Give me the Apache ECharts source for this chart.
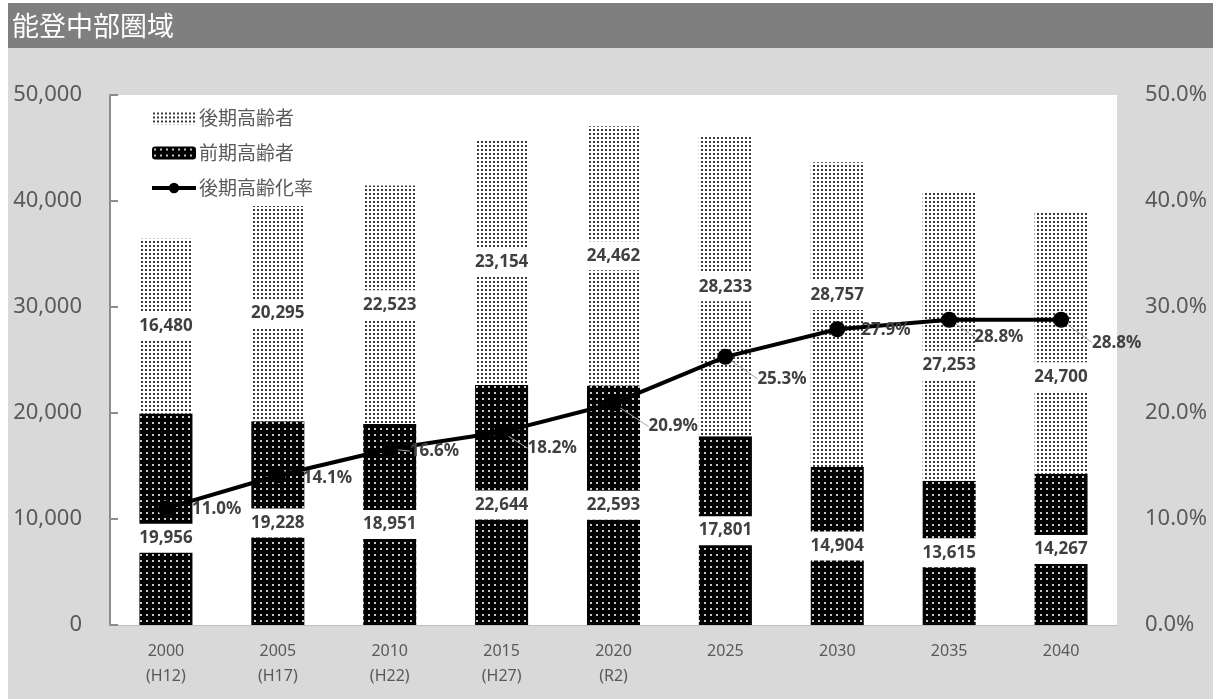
<!DOCTYPE html>
<html>
<head>
<meta charset="utf-8">
<script src="https://cdn.jsdelivr.net/npm/echarts@6/dist/echarts.min.js"></script>
<style>
html,body{margin:0;padding:0;background:#fff;}
#chart{width:1220px;height:699px;}
</style>
</head>
<body>
<div id="chart"></div>
<script>
// ---- data ----
var categories = ['2000\n(H12)', '2005\n(H17)', '2010\n(H22)', '2015\n(H27)', '2020\n(R2)', '2025', '2030', '2035', '2040'];
var zenkiValues = [19956, 19228, 18951, 22644, 22593, 17801, 14904, 13615, 14267];   // 前期高齢者
var kokiValues  = [16480, 20295, 22523, 23154, 24462, 28233, 28757, 27253, 24700];   // 後期高齢者
var kokiRate    = [11.0, 14.1, 16.6, 18.2, 20.9, 25.3, 27.9, 28.8, 28.8];            // 後期高齢化率 (%)
var leftTicks   = [0, 10000, 20000, 30000, 40000, 50000];
var rightTicks  = [0, 10, 20, 30, 40, 50];

// ---- label layout offsets (styling) ----
var rateLabelShift = [[18,1],[17,3],[12,2],[18,16],[27,23],[24,22],[16,1],[17,17],[23,23]];
var rateLeader     = [false,false,true,true,true,true,false,true,true];
var zenkiLabelDy   = [19,0,0,0,0,0,0,0,0];
var kokiLabelDy    = [0,0,0,0,0,0,-19,29,34];

function makePattern(size, bg, dot, dx, dy, ds) {
  var c = document.createElement('canvas');
  c.width = size; c.height = size;
  var g = c.getContext('2d');
  g.fillStyle = bg; g.fillRect(0, 0, size, size);
  g.fillStyle = dot; g.fillRect(dx, dy, ds, ds);
  return c;
}
var darkPattern = { image: makePattern(6, '#000000', '#c8c8c8', 2, 2, 2), repeat: 'repeat' };
var lightPattern = { image: makePattern(4, '#ffffff', '#3c3c3c', 1, 1, 2), repeat: 'repeat' };

var FONT = "'Noto Sans', 'Noto Sans CJK JP', sans-serif";
var chart = echarts.init(document.getElementById('chart'), null, { renderer: 'canvas' });

function fmtNum(v) { return v.toString().replace(/\B(?=(\d{3})+(?!\d))/g, ','); }

var option = {
  animation: false,
  backgroundColor: '#ffffff',
  textStyle: { fontFamily: FONT },
  graphic: [
    { type: 'rect', z: -10, silent: true, shape: { x: 8, y: 3, width: 1205, height: 696 }, style: { fill: '#d9d9d9' } },
    { type: 'rect', z: -9, silent: true, shape: { x: 8, y: 3, width: 1205, height: 45 }, style: { fill: '#7f7f7f' } },
    { type: 'text', z: -8, silent: true, x: 12, y: 26, style: { text: '能登中部圏域', fill: '#ffffff', font: "27px 'Noto Sans CJK JP'", verticalAlign: 'middle' } }
  ],
  grid: { left: 110, right: 103, top: 95, bottom: 74, show: true, backgroundColor: '#ffffff', borderWidth: 0, containLabel: false },
  legend: {
    orient: 'vertical', left: 145, top: 103, itemGap: 15, itemWidth: 44, itemHeight: 13,
    textStyle: { fontSize: 19, color: '#595959', lineHeight: 20, fontFamily: "'Noto Sans CJK JP'", padding: [0,0,0,-2] },
    data: [
      { name: '後期高齢者' },
      { name: '前期高齢者' },
      { name: '後期高齢化率', lineStyle: { width: 4, color: '#000000' }, itemStyle: { color: '#000000' } }
    ]
  },
  xAxis: {
    type: 'category', data: categories,
    axisLine: { show: true, lineStyle: { color: '#bfbfbf', width: 1 } },
    axisTick: { show: false },
    axisLabel: { fontSize: 16, color: '#595959', lineHeight: 25, margin: 14, interval: 0 }
  },
  yAxis: [
    {
      type: 'value', min: leftTicks[0], max: leftTicks[leftTicks.length - 1], interval: leftTicks[1] - leftTicks[0],
      splitLine: { show: false },
      axisLine: { show: true, lineStyle: { color: '#8c8c8c', width: 2 } },
      axisTick: { show: true, inside: true, length: 8, lineStyle: { color: '#8c8c8c', width: 2 } },
      axisLabel: { fontSize: 22, color: '#595959', margin: 28, formatter: function (v) { return fmtNum(v); } }
    },
    {
      type: 'value', min: rightTicks[0], max: rightTicks[rightTicks.length - 1], interval: rightTicks[1] - rightTicks[0],
      splitLine: { show: false },
      axisLine: { show: false }, axisTick: { show: false },
      axisLabel: { fontSize: 22, color: '#595959', margin: 28, formatter: function (v) { return v.toFixed(1) + '%'; } }
    }
  ],
  series: [
    {
      name: '前期高齢者', type: 'bar', stack: 'total', barWidth: 53, z: 2,
      data: zenkiValues,
      itemStyle: { color: darkPattern },
      label: {
        show: true, position: 'inside', formatter: function (p) { return fmtNum(p.value); },
        fontSize: 17, fontWeight: 'bold', color: '#404040', backgroundColor: '#ffffff', padding: [6, 2]
      },
      labelLayout: function (p) { return { dy: zenkiLabelDy[p.dataIndex] }; }
    },
    {
      name: '後期高齢者', type: 'bar', stack: 'total', barWidth: 53, z: 2,
      data: kokiValues,
      itemStyle: { color: lightPattern },
      label: {
        show: true, position: 'inside', formatter: function (p) { return fmtNum(p.value); },
        fontSize: 17, fontWeight: 'bold', color: '#404040', backgroundColor: '#ffffff', padding: [6, 2]
      },
      labelLayout: function (p) { return { dy: kokiLabelDy[p.dataIndex] }; }
    },
    {
      name: '後期高齢化率', type: 'line', yAxisIndex: 1, z: 5,
      data: kokiRate.map(function (v, i) { return { value: v, labelLine: { show: rateLeader[i] } }; }),
      symbol: 'circle', symbolSize: 16,
      lineStyle: { color: '#000000', width: 4 },
      itemStyle: { color: '#000000' },
      label: {
        show: true, position: 'right', distance: 0,
        formatter: function (p) { return p.value.toFixed(1) + '%'; },
        fontSize: 17, fontWeight: 'bold', color: '#404040'
      },
      labelLine: { show: true, lineStyle: { color: '#a6a6a6', width: 1 } },
      labelLayout: function (p) { var s = rateLabelShift[p.dataIndex]; return { dx: s[0], dy: s[1] }; }
    }
  ]
};
chart.setOption(option);
</script>
</body>
</html>
